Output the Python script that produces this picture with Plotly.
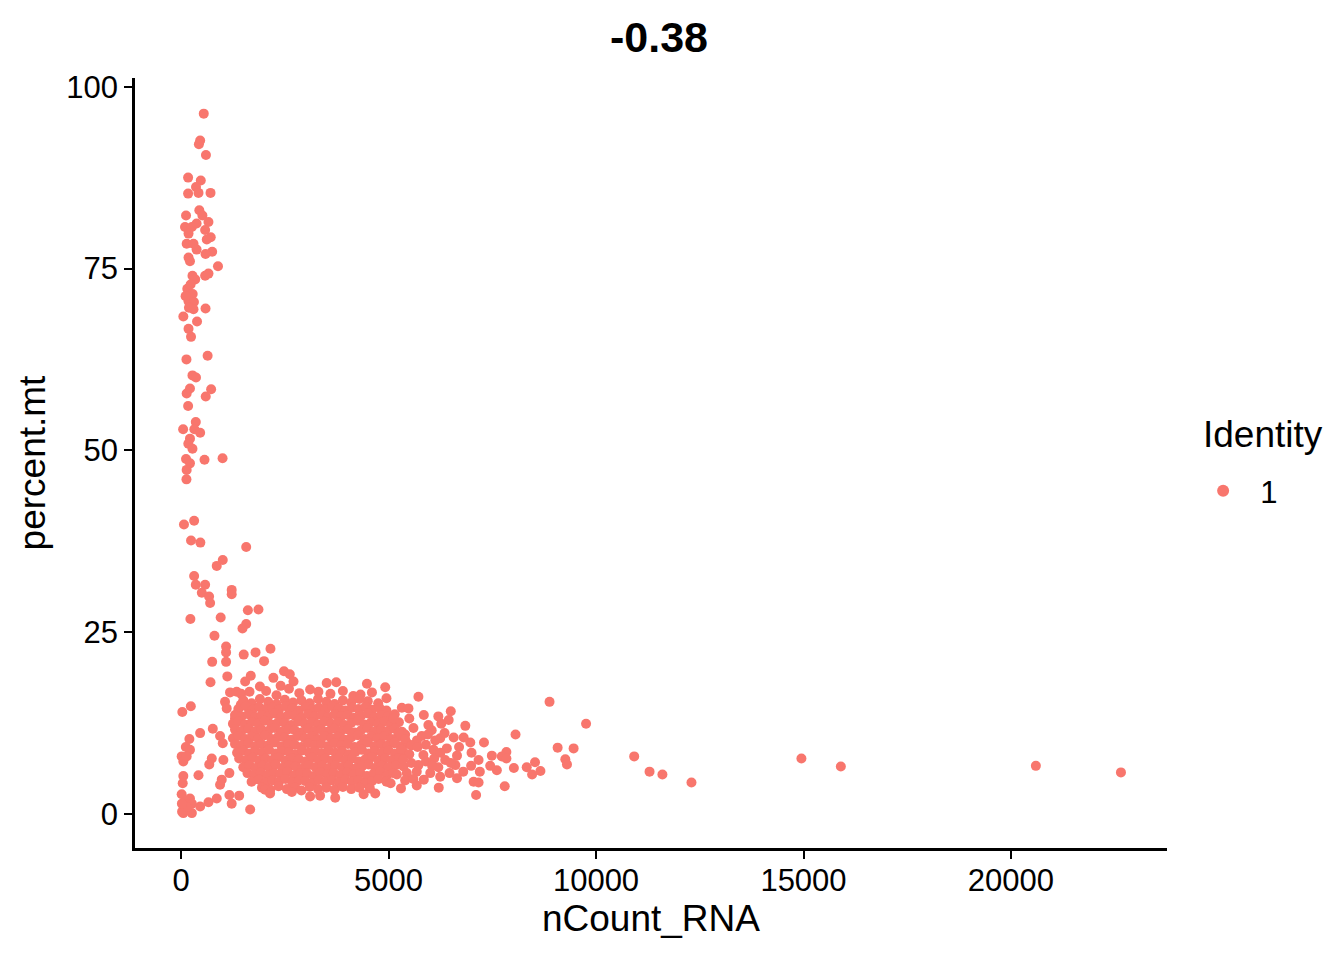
import plotly.graph_objects as go

# cells with high mitochondrial fraction (low counts)
column_cells = [
    (547, 96.3), (460, 92.6), (430, 92.1), (600, 90.6), (170, 87.5), (475, 87.1), (360, 86.2),
    (170, 85.3), (420, 85.4), (710, 85.4), (120, 82.3), (440, 83.0), (515, 82.3), (660, 81.4),
    (95, 80.7), (260, 80.7), (375, 81.2), (580, 80.3), (180, 79.8), (715, 79.3), (620, 79.0),
    (135, 78.4), (300, 78.4), (375, 77.6), (750, 77.3), (590, 77.0), (180, 76.5), (215, 76.0),
    (890, 75.3), (275, 74.0), (340, 73.5), (580, 74.0), (660, 74.3), (150, 72.2), (230, 72.8),
    (280, 71.5), (180, 70.5), (310, 70.4), (110, 71.2), (190, 69.6), (300, 69.4), (590, 69.5),
    (55, 68.4), (385, 67.7), (180, 66.7), (240, 65.6), (130, 62.5), (640, 63.0), (275, 60.3),
    (360, 60.0), (135, 57.8), (215, 58.5), (725, 58.4), (595, 57.4), (170, 56.1), (355, 53.9),
    (50, 52.9), (320, 52.9), (460, 52.4), (215, 51.6), (175, 50.9), (275, 50.2), (120, 48.8),
    (215, 48.2), (565, 48.7), (1000, 48.9), (135, 47.3), (130, 46.0), (70, 39.8), (315, 40.3),
    (240, 37.6), (465, 37.3), (1570, 36.7), (1005, 34.9), (860, 34.1), (315, 32.7), (355, 31.5),
    (580, 31.5), (500, 30.4), (675, 29.9), (700, 29.0), (1220, 30.8), (1220, 30.2),
]

mid_cells = [
    (225, 26.8), (955, 27.0), (1610, 28.0), (1865, 28.1), (1570, 26.1), (1480, 25.5), (805, 24.5),
    (1085, 23.0), (1085, 22.2), (1085, 20.9), (1510, 21.9), (1795, 22.2), (2155, 22.7), (750, 20.9),
    (2000, 21.0), (2480, 19.6), (2620, 19.2), (710, 18.1), (1115, 18.9), (1680, 19.0), (1545, 18.2),
    (2225, 18.7), (2710, 18.2), (1180, 16.7), (1340, 16.8), (1060, 15.4), (1100, 14.5), (30, 14.0),
    (235, 14.8),
]

low_left_cells = [
    (460, 11.1), (765, 11.7), (200, 10.3), (115, 9.2), (215, 8.8), (15, 7.9), (55, 7.2), (135, 7.9),
    (740, 7.6), (680, 6.8), (940, 10.7), (420, 5.3), (55, 5.2), (40, 4.2), (940, 4.0), (980, 4.7),
    (15, 2.7), (95, 1.7), (55, 0.1), (215, 2.1), (260, 1.4), (260, 0.1), (460, 1.0), (660, 1.6),
    (860, 2.1), (1165, 2.6), (1220, 1.4), (1400, 2.5), (1665, 0.6), (1005, 9.7), (1020, 7.4),
    (1165, 5.6), (1325, 11.5), (1300, 13.1), (1440, 15.0), (25, 0.3), (140, 0.9), (20, 1.4),
]

core_cells = [
    (1450, 16.5), (1650, 16.8), (1900, 17.5), (2050, 16.9), (2300, 16.3), (2400, 17.6), (2600, 17.2),
    (2850, 16.6), (3110, 17.1), (3310, 16.8), (3510, 18.0), (3740, 18.1), (3600, 16.5), (3900, 16.9),
    (4150, 16.2), (4325, 16.4), (4480, 17.9), (4600, 16.7), (4920, 17.4),
    (1500, 15.6), (1700, 15.2), (1900, 15.8), (2100, 15.4), (2300, 15.1), (2500, 15.7), (2700, 15.3),
    (2900, 15.6), (3100, 15.2), (3300, 15.8), (3500, 15.4), (3700, 15.1), (3900, 15.6), (4100, 15.3),
    (4300, 15.8), (4500, 15.5), (4750, 15.2), (4950, 15.9),
    (1380, 14.4), (1560, 14.8), (1720, 14.3), (1880, 14.7), (2040, 14.4), (2200, 14.6), (2360, 14.3),
    (2520, 14.8), (2680, 14.5), (2840, 14.2), (3000, 14.7), (3160, 14.4), (3320, 14.6), (3480, 14.3),
    (3640, 14.8), (3800, 14.5), (3960, 14.2), (4120, 14.6), (4280, 14.4), (4440, 14.7), (4600, 14.3),
    (4780, 14.6), (4950, 14.2),
    (1300, 13.6), (1460, 13.4), (1620, 13.7), (1780, 13.3), (1940, 13.6), (2100, 13.4), (2260, 13.8),
    (2420, 13.3), (2580, 13.6), (2740, 13.5), (2900, 13.2), (3060, 13.7), (3220, 13.4), (3380, 13.6),
    (3540, 13.3), (3700, 13.7), (3860, 13.4), (4020, 13.6), (4180, 13.2), (4340, 13.5), (4500, 13.8),
    (4660, 13.3), (4820, 13.6), (4980, 13.4), (5150, 13.7),
    (1250, 12.4), (1380, 12.7), (1540, 12.3), (1700, 12.6), (1860, 12.4), (2020, 12.8), (2180, 12.3),
    (2340, 12.6), (2500, 12.5), (2660, 12.2), (2820, 12.7), (2980, 12.4), (3140, 12.6), (3300, 12.3),
    (3460, 12.7), (3620, 12.4), (3780, 12.6), (3940, 12.2), (4100, 12.5), (4260, 12.8), (4420, 12.3),
    (4580, 12.6), (4740, 12.4), (4900, 12.7), (5060, 12.3), (5250, 12.6),
    (1300, 11.6), (1460, 11.4), (1620, 11.7), (1780, 11.3), (1940, 11.6), (2100, 11.4), (2260, 11.8),
    (2420, 11.3), (2580, 11.6), (2740, 11.5), (2900, 11.2), (3060, 11.7), (3220, 11.4), (3380, 11.6),
    (3540, 11.3), (3700, 11.7), (3860, 11.4), (4020, 11.6), (4180, 11.2), (4340, 11.5), (4500, 11.8),
    (4660, 11.3), (4820, 11.6), (4980, 11.4), (5140, 11.7), (5320, 11.3),
    (1250, 10.4), (1380, 10.7), (1540, 10.3), (1700, 10.6), (1860, 10.4), (2020, 10.8), (2180, 10.3),
    (2340, 10.6), (2500, 10.5), (2660, 10.2), (2820, 10.7), (2980, 10.4), (3140, 10.6), (3300, 10.3),
    (3460, 10.7), (3620, 10.4), (3780, 10.6), (3940, 10.2), (4100, 10.5), (4260, 10.8), (4420, 10.3),
    (4580, 10.6), (4740, 10.4), (4900, 10.7), (5060, 10.3), (5220, 10.6), (5400, 10.9),
    (1300, 9.6), (1460, 9.4), (1620, 9.7), (1780, 9.3), (1940, 9.6), (2100, 9.4), (2260, 9.8),
    (2420, 9.3), (2580, 9.6), (2740, 9.5), (2900, 9.2), (3060, 9.7), (3220, 9.4), (3380, 9.6),
    (3540, 9.3), (3700, 9.7), (3860, 9.4), (4020, 9.6), (4180, 9.2), (4340, 9.5), (4500, 9.8),
    (4660, 9.3), (4820, 9.6), (4980, 9.4), (5140, 9.7), (5300, 9.3), (5480, 9.6),
    (1350, 8.4), (1500, 8.7), (1650, 8.3), (1800, 8.6), (1960, 8.4), (2120, 8.8), (2280, 8.3),
    (2440, 8.6), (2600, 8.5), (2760, 8.2), (2920, 8.7), (3080, 8.4), (3240, 8.6), (3400, 8.3),
    (3560, 8.7), (3720, 8.4), (3880, 8.6), (4040, 8.2), (4200, 8.5), (4360, 8.8), (4520, 8.3),
    (4680, 8.6), (4840, 8.4), (5000, 8.7), (5160, 8.3), (5350, 8.6),
    (1400, 7.6), (1560, 7.4), (1720, 7.7), (1880, 7.3), (2040, 7.6), (2200, 7.4), (2360, 7.8),
    (2520, 7.3), (2680, 7.6), (2840, 7.5), (3000, 7.2), (3160, 7.7), (3320, 7.4), (3480, 7.6),
    (3640, 7.3), (3800, 7.7), (3960, 7.4), (4120, 7.6), (4280, 7.2), (4440, 7.5), (4600, 7.8),
    (4760, 7.3), (4920, 7.6), (5080, 7.4), (5250, 7.7),
    (1500, 6.4), (1650, 6.7), (1800, 6.3), (1960, 6.6), (2120, 6.4), (2280, 6.8), (2440, 6.3),
    (2600, 6.6), (2760, 6.5), (2920, 6.2), (3080, 6.7), (3240, 6.4), (3400, 6.6), (3560, 6.3),
    (3720, 6.7), (3880, 6.4), (4040, 6.6), (4200, 6.2), (4360, 6.5), (4520, 6.8), (4680, 6.3),
    (4840, 6.6), (5000, 6.4), (5180, 6.7),
    (1600, 5.6), (1760, 5.4), (1920, 5.7), (2080, 5.3), (2240, 5.6), (2400, 5.4), (2560, 5.8),
    (2720, 5.3), (2880, 5.6), (3040, 5.5), (3200, 5.2), (3360, 5.7), (3520, 5.4), (3680, 5.6),
    (3840, 5.3), (4000, 5.7), (4160, 5.4), (4320, 5.6), (4480, 5.2), (4640, 5.5), (4800, 5.8),
    (4960, 5.3), (5120, 5.6),
    (1700, 4.4), (1880, 4.7), (2040, 4.3), (2200, 4.6), (2360, 4.4), (2520, 4.8), (2680, 4.3),
    (2840, 4.6), (3000, 4.5), (3160, 4.2), (3320, 4.7), (3480, 4.4), (3640, 4.6), (3800, 4.3),
    (3960, 4.7), (4120, 4.4), (4280, 4.6), (4440, 4.2), (4600, 4.5), (4760, 4.8), (4950, 4.4),
    (1950, 3.6), (2150, 3.3), (2350, 3.8), (2550, 3.4), (2750, 3.6), (2900, 3.2), (3100, 3.7),
    (3300, 3.4), (3500, 3.6), (3700, 3.3), (3900, 3.7), (4100, 3.4), (4300, 3.6), (4550, 3.5),
    (2025, 3.3), (2145, 2.8), (2670, 3.0), (3110, 2.4), (3350, 2.5), (3715, 2.2), (4400, 2.7),
    (4680, 2.8),
]

fringe_cells = [
    (5720, 16.1), (8880, 15.4), (9760, 12.4), (6500, 14.1), (5320, 14.6), (5480, 14.5), (5500, 13.1),
    (5120, 13.1), (5960, 12.2), (6040, 11.5), (6270, 12.4), (5600, 11.8), (6850, 12.1), (8060, 10.9),
    (7300, 9.8), (6970, 9.8), (6570, 10.5), (6810, 10.5), (6245, 10.4), (6125, 10.1), (5800, 10.7),
    (5685, 10.1), (9075, 9.1), (9460, 9.0), (9260, 7.5), (9300, 6.8), (7840, 8.5), (7730, 7.9),
    (7840, 7.6), (7490, 8.0), (8330, 6.4), (8530, 7.1), (8460, 5.4), (8660, 5.9), (8020, 6.3),
    (7610, 6.0), (7450, 6.6), (6990, 6.6), (7200, 5.8), (7170, 7.4), (7050, 4.4), (7170, 4.3),
    (7110, 2.6), (7800, 3.8), (6210, 3.6), (5680, 3.9), (6650, 8.0), (6610, 6.7), (6470, 5.6),
    (6245, 5.1), (6005, 5.6), (5840, 8.1), (6085, 8.8), (6405, 9.0), (6365, 7.4), (5720, 6.7),
    (5680, 5.8), (5360, 6.5), (5440, 5.6), (5250, 11.2), (5400, 10.3), (5550, 9.4), (5300, 8.9),
    (5500, 8.2), (5700, 9.2), (5900, 9.5), (6100, 7.6), (6250, 8.4), (5900, 7.2), (6200, 6.4),
    (5350, 7.5), (5550, 7.0), (5200, 5.4), (5400, 4.6), (5600, 4.8), (5850, 4.7), (6050, 6.6),
    (5150, 9.8), (5950, 10.9), (6350, 11.1), (6700, 9.2), (6500, 7.0), (6800, 5.8), (6650, 4.9),
    (7000, 8.4), (5300, 3.5), (5050, 4.2), (6450, 12.9), (5850, 13.6), (6200, 13.4),
]

tail_cells = [
    (10920, 7.9), (11290, 5.8), (11600, 5.4), (12300, 4.3), (14950, 7.6), (15900, 6.5),
    (20600, 6.6), (22650, 5.7),
]

all_cells = column_cells + mid_cells + low_left_cells + core_cells + fringe_cells + tail_cells
ncount_rna = [c[0] for c in all_cells]
percent_mt = [c[1] for c in all_cells]

x_ticks = [0, 5000, 10000, 15000, 20000]
x_labels = ["0", "5000", "10000", "15000", "20000"]
y_ticks = [0, 25, 50, 75, 100]
y_labels = ["0", "25", "50", "75", "100"]

font = "Liberation Sans, Arial, Helvetica, sans-serif"

fig = go.Figure()
fig.add_trace(go.Scatter(
    x=ncount_rna, y=percent_mt, mode="markers", name="\u00a0\u00a01",
    marker=dict(color="#F8766D", size=10, line=dict(width=0)),
))

# the page body adds an 8px offset, so margins are 8px smaller on the left/top
fig.update_layout(
    width=1344, height=960,
    paper_bgcolor="white", plot_bgcolor="white",
    margin=dict(l=127, r=185, t=70, b=120, pad=0),
    font=dict(family=font, color="black"),
    title=dict(text="<b>-0.38</b>", x=0.4844, xanchor="center", y=0.9698, yanchor="middle",
               font=dict(size=43, color="black")),
    showlegend=True,
    legend=dict(font=dict(size=31), x=1.035, xanchor="left", y=0.4636, yanchor="middle",
                itemsizing="constant", bgcolor="rgba(0,0,0,0)"),
    annotations=[dict(text="Identity", xref="paper", yref="paper", x=1.0329, y=0.5364,
                      xanchor="left", yanchor="middle", showarrow=False,
                      font=dict(size=37, color="black"))],
)
fig.update_xaxes(
    range=[-1110, 23760], tickvals=x_ticks, ticktext=x_labels, ticks="outside", ticklen=8,
    tickwidth=2, tickcolor="black", showline=True, linecolor="black", linewidth=2.5,
    showgrid=False, zeroline=False, tickfont=dict(size=31, color="black"), automargin=False,
    ticklabelstandoff=-5,
    title=dict(text="nCount_RNA", font=dict(size=37), standoff=2),
)
fig.update_yaxes(
    range=[-4.7, 101.2], tickvals=y_ticks, ticktext=y_labels, ticks="outside", ticklen=8,
    tickwidth=2, tickcolor="black", showline=True, linecolor="black", linewidth=2.5,
    showgrid=False, zeroline=False, tickfont=dict(size=31, color="black"), automargin=False,
    title=dict(text="percent.mt", font=dict(size=37), standoff=10),
)

fig.write_html("out.html")
